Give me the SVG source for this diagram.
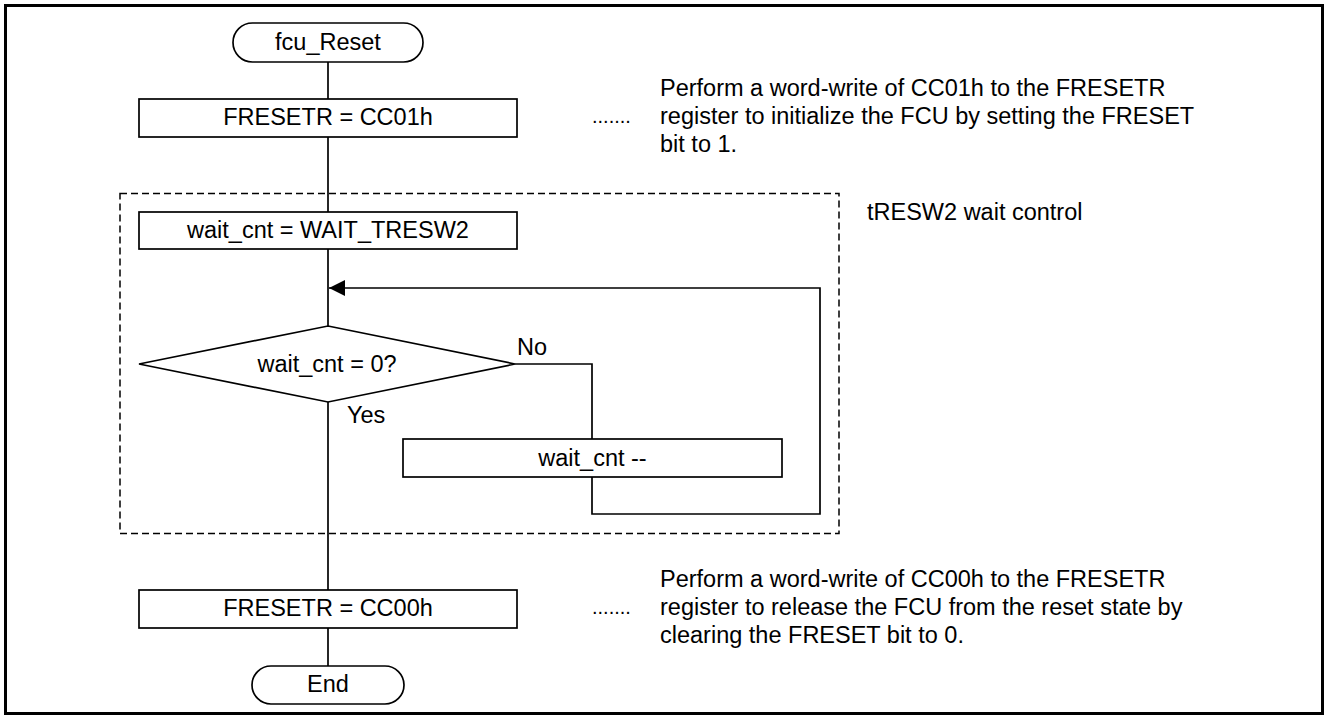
<svg xmlns="http://www.w3.org/2000/svg" width="1328" height="719" viewBox="0 0 1328 719">
  <style>
    .shape { fill: #ffffff; stroke: #000000; stroke-width: 1.7; }
    .flow { fill: none; stroke: #000000; stroke-width: 1.7; }
    .frame { fill: none; stroke: #000000; stroke-width: 3; }
    .group { fill: none; stroke: #000000; stroke-width: 1.5; stroke-dasharray: 7 4; }
    text { font-family: "Liberation Sans", Arial, sans-serif; font-size: 23.5px; fill: #000000; }
    .mid { text-anchor: middle; }
    .dots { font-size: 20px; }
  </style>
  <defs>
    <!-- filled arrowhead, tip at the end of the path -->
    <marker id="arrow" markerWidth="16" markerHeight="16" refX="16" refY="8" orient="auto" markerUnits="userSpaceOnUse">
      <path d="M0,0 L16,8 L0,16 Z" fill="#000000"/>
    </marker>
  </defs>

  <!-- outer frame -->
  <rect class="frame" x="5.5" y="5.5" width="1317" height="708"/>

  <!-- wait loop grouping -->
  <g id="wait-group">
    <rect class="group" x="120" y="193.5" width="719" height="340"/>
    <text x="867" y="220">tRESW2 wait control</text>
  </g>

  <!-- connectors -->
  <g id="connectors">
    <line class="flow" x1="328" y1="62" x2="328" y2="99"/>
    <line class="flow" x1="328" y1="137" x2="328" y2="212"/>
    <line class="flow" x1="328" y1="249" x2="328" y2="326"/>
    <line class="flow" x1="328" y1="402" x2="328" y2="590"/>
    <line class="flow" x1="328" y1="628" x2="328" y2="666"/>
    <polyline class="flow" points="515,364 592,364 592,439"/>
    <polyline class="flow" points="592,477 592,514 820,514 820,288 329,288" marker-end="url(#arrow)"/>
    <text x="517" y="355">No</text>
    <text x="347" y="423">Yes</text>
  </g>

  <g id="start">
    <rect class="shape" x="233" y="23" width="190" height="39" rx="19.5" ry="19.5"/>
    <text class="mid" x="328" y="50">fcu_Reset</text>
  </g>

  <g id="set-reset">
    <rect class="shape" x="139" y="99" width="378" height="38"/>
    <text class="mid" x="328" y="125">FRESETR = CC01h</text>
  </g>

  <g id="note-set">
    <text class="dots" x="592" y="123">.......</text>
    <text x="660" y="96">Perform a word-write of CC01h to the FRESETR</text>
    <text x="660" y="124">register to initialize the FCU by setting the FRESET</text>
    <text x="660" y="152">bit to 1.</text>
  </g>

  <g id="init-count">
    <rect class="shape" x="139" y="212" width="378" height="37"/>
    <text class="mid" x="328" y="238">wait_cnt = WAIT_TRESW2</text>
  </g>

  <g id="check-count">
    <polygon class="shape" points="328,326 515,364 328,402 139,364"/>
    <text class="mid" x="327" y="372">wait_cnt = 0?</text>
  </g>

  <g id="decrement">
    <rect class="shape" x="403" y="439" width="379" height="38"/>
    <text class="mid" x="592.5" y="466">wait_cnt --</text>
  </g>

  <g id="release-reset">
    <rect class="shape" x="139" y="590" width="378" height="38"/>
    <text class="mid" x="328" y="616">FRESETR = CC00h</text>
  </g>

  <g id="note-release">
    <text class="dots" x="592" y="614">.......</text>
    <text x="660" y="587">Perform a word-write of CC00h to the FRESETR</text>
    <text x="660" y="615">register to release the FCU from the reset state by</text>
    <text x="660" y="643">clearing the FRESET bit to 0.</text>
  </g>

  <g id="end">
    <rect class="shape" x="252" y="666" width="152" height="38" rx="19" ry="19"/>
    <text class="mid" x="328" y="692">End</text>
  </g>
</svg>
